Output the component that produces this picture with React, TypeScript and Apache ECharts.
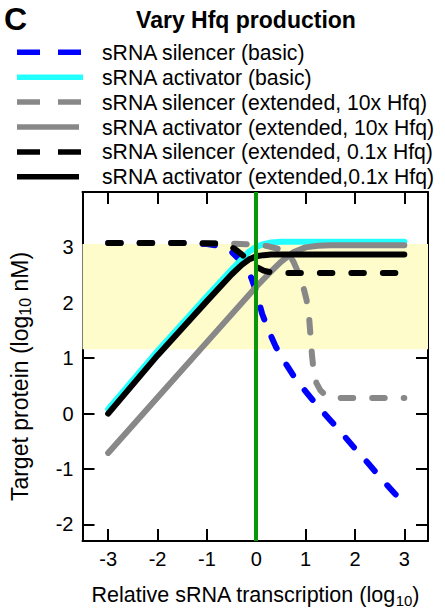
import React, { useEffect, useRef } from 'react';
import * as echarts from 'echarts';

const FONT = '"Liberation Sans", Arial, Helvetica, sans-serif';

const panelLetter = 'C';
const chartTitle = 'Vary Hfq production';
const xAxisLabel = 'Relative sRNA transcription (log{s|10})';
const yAxisLabel = 'Target protein (log{s|10} nM)';

const seriesNames = [
  'sRNA silencer (basic)',
  'sRNA activator (basic)',
  'sRNA silencer (extended, 10x Hfq)',
  'sRNA activator (extended, 10x Hfq)',
  'sRNA silencer (extended, 0.1x Hfq)',
  'sRNA activator (extended,0.1x Hfq)',
];

// [log10 relative sRNA transcription, log10 target protein]
const blueSilencerBasic: number[][] = [
  [-3, 3.08], [-1.5, 3.08], [-1, 3.06], [-0.75, 3.03], [-0.5, 2.92], [-0.25, 2.7],
  [-0.1, 2.45], [0, 2.2], [0.12, 1.8], [0.25, 1.5], [0.4, 1.2], [0.6, 0.9],
  [0.8, 0.62], [1, 0.4], [1.25, 0.13], [1.5, -0.12], [1.75, -0.37], [2, -0.63],
  [2.25, -0.88], [2.5, -1.14], [2.75, -1.39], [3, -1.63],
];
const cyanActivatorBasic: number[][] = [
  [-3, 0.08], [-2, 1.13], [-1, 2.12], [-0.5, 2.6], [-0.3, 2.78], [-0.15, 2.92],
  [0, 3.01], [0.15, 3.06], [0.3, 3.09], [0.5, 3.1], [3, 3.1],
];
const graySilencerExt10: number[][] = [
  [-3, 3.08], [-1.5, 3.08], [-0.5, 3.07], [0, 3.05], [0.25, 3.02], [0.5, 2.96],
  [0.65, 2.88], [0.75, 2.75], [0.85, 2.55], [0.95, 2.3], [1.02, 2.05], [1.07, 1.75],
  [1.1, 1.4], [1.13, 1.05], [1.16, 0.8], [1.22, 0.55], [1.3, 0.42], [1.4, 0.33],
  [1.55, 0.29], [1.8, 0.28], [3, 0.28],
];
const grayActivatorExt10: number[][] = [
  [-3, -0.71], [-2, 0.29], [-1, 1.29], [0, 2.29], [0.25, 2.52], [0.5, 2.74],
  [0.75, 2.91], [1, 3.0], [1.25, 3.03], [1.5, 3.04], [3, 3.04],
];
const blackSilencerExt01: number[][] = [
  [-3, 3.08], [-1.5, 3.08], [-0.75, 3.07], [-0.6, 3.05], [-0.45, 2.98], [-0.3, 2.88],
  [-0.15, 2.75], [0, 2.65], [0.15, 2.58], [0.3, 2.55], [0.5, 2.54], [3, 2.54],
];
const blackActivatorExt01: number[][] = [
  [-3, 0.0], [-2, 1.05], [-1, 2.03], [-0.5, 2.51], [-0.3, 2.68], [-0.15, 2.78],
  [0, 2.84], [0.15, 2.86], [0.3, 2.87], [0.5, 2.87], [3, 2.87],
];

const seriesData = [
  blueSilencerBasic, cyanActivatorBasic, graySilencerExt10,
  grayActivatorExt10, blackSilencerExt01, blackActivatorExt01,
];

// optimal range band (log10 nM) and reference transcription level
const bandLow = 1.16;
const bandHigh = 3.06;
const referenceX = 0;

const xMin = -3.52;
const xMax = 3.48;
const yMin = -2.3;
const yMax = 4;

export default function App() {
  const ref = useRef<HTMLDivElement>(null);

  useEffect(() => {
    if (!ref.current) return;
    const chart = echarts.init(ref.current, null, { renderer: 'svg' });

    const colors = ['#0000ff', '#22ffff', '#888888', '#888888', '#000000', '#000000'];
    const dashed = [true, false, true, false, true, false];
    const legendLineEnd = [82, 83, 82, 79, 82, 79];

    const xFmt = (v: number) =>
      Math.abs(v - Math.round(v)) < 1e-6 && Math.abs(v) <= 3 ? String(Math.round(v)) : '';
    const yFmt = (v: number) =>
      Math.abs(v - Math.round(v)) < 1e-6 && v <= 3 && v >= -2 ? String(Math.round(v)) : '';

    const axisLine = { show: true, onZero: false, lineStyle: { color: '#000', width: 2 } };
    const axisTick = { show: true, inside: true, length: 12, lineStyle: { color: '#000', width: 2 } };

    const lineSeries = seriesData.map((d, i) => ({
      type: 'line',
      name: seriesNames[i],
      data: d,
      symbol: 'none',
      showSymbol: false,
      z: 3,
      silent: true,
      lineStyle: {
        color: colors[i],
        width: 6,
        type: dashed[i] ? [12.5, 19] : 'solid',
        cap: 'round',
        join: 'round',
      },
      itemStyle: { color: colors[i] },
    }));

    const legendGraphics: any[] = [];
    seriesNames.forEach((n, i) => {
      const y = 52.3 + i * 24.9;
      legendGraphics.push({
        type: 'line',
        silent: true,
        shape: { x1: 17, y1: y, x2: legendLineEnd[i], y2: y },
        style: {
          stroke: colors[i],
          lineWidth: 5.5,
          lineDash: dashed[i] ? [23, 18] : null,
          lineCap: 'butt',
        },
      });
      legendGraphics.push({
        type: 'text',
        silent: true,
        x: 102,
        y: y,
        style: {
          text: n,
          fontSize: 21.2,
          fontFamily: FONT,
          fill: '#000',
          align: 'left',
          verticalAlign: 'middle',
        },
      });
    });

    const option: any = {
      animation: false,
      backgroundColor: '#ffffff',
      grid: { left: 78, right: 17, top: 192, bottom: 72, containLabel: false },
      xAxis: [
        {
          type: 'value',
          min: xMin,
          max: xMax,
          splitNumber: 7,
          position: 'bottom',
          axisLine,
          axisTick,
          splitLine: { show: false },
          axisLabel: { formatter: xFmt, fontSize: 20, color: '#000', margin: 8, fontFamily: FONT },
          name: xAxisLabel,
          nameLocation: 'middle',
          nameGap: 41,
          nameTextStyle: {
            fontSize: 21.5,
            color: '#000',
            fontFamily: FONT,
            rich: { s: { fontSize: 15, fontFamily: FONT, color: '#000', padding: [11, 0, 0, 0] } },
          },
        },
        {
          type: 'value',
          min: xMin,
          max: xMax,
          splitNumber: 7,
          position: 'top',
          axisLine,
          axisTick,
          splitLine: { show: false },
          axisLabel: { show: false },
        },
      ],
      yAxis: [
        {
          type: 'value',
          min: yMin,
          max: yMax,
          splitNumber: 6,
          position: 'left',
          axisLine,
          axisTick,
          splitLine: { show: false },
          axisLabel: { formatter: yFmt, fontSize: 20, color: '#000', margin: 9, fontFamily: FONT },
          name: yAxisLabel,
          nameLocation: 'middle',
          nameGap: 49,
          nameTextStyle: {
            fontSize: 23,
            color: '#000',
            fontFamily: FONT,
            padding: [0, 20, 0, 0],
            rich: { s: { fontSize: 16, fontFamily: FONT, color: '#000', padding: [12, 0, 0, 0] } },
          },
        },
        {
          type: 'value',
          min: yMin,
          max: yMax,
          splitNumber: 6,
          position: 'right',
          axisLine,
          axisTick,
          splitLine: { show: false },
          axisLabel: { show: false },
        },
      ],
      series: [
        {
          type: 'line',
          data: [],
          z: 1,
          silent: true,
          markArea: {
            silent: true,
            itemStyle: { color: '#fefccb' },
            data: [[{ yAxis: bandLow }, { yAxis: bandHigh }]],
          },
        },
        ...lineSeries,
        {
          type: 'line',
          data: [],
          z: 10,
          silent: true,
          markLine: {
            silent: true,
            symbol: ['none', 'none'],
            label: { show: false },
            lineStyle: { color: '#0a960a', width: 4, type: 'solid' },
            data: [{ xAxis: referenceX }],
          },
        },
      ],
      graphic: [
        {
          type: 'text',
          silent: true,
          x: 4,
          y: 3,
          style: {
            text: panelLetter,
            fontSize: 32,
            fontWeight: 'bold',
            fontFamily: FONT,
            fill: '#000',
            align: 'left',
            verticalAlign: 'top',
          },
        },
        {
          type: 'text',
          silent: true,
          x: 246,
          y: 19.5,
          style: {
            text: chartTitle,
            fontSize: 23,
            fontWeight: 'bold',
            fontFamily: FONT,
            fill: '#000',
            align: 'center',
            verticalAlign: 'middle',
          },
        },
        ...legendGraphics,
      ],
    };

    chart.setOption(option);
    return () => chart.dispose();
  }, []);

  return (
    <div
      ref={ref}
      style={{ position: 'absolute', left: 0, top: 0, width: 445, height: 613 }}
    />
  );
}
